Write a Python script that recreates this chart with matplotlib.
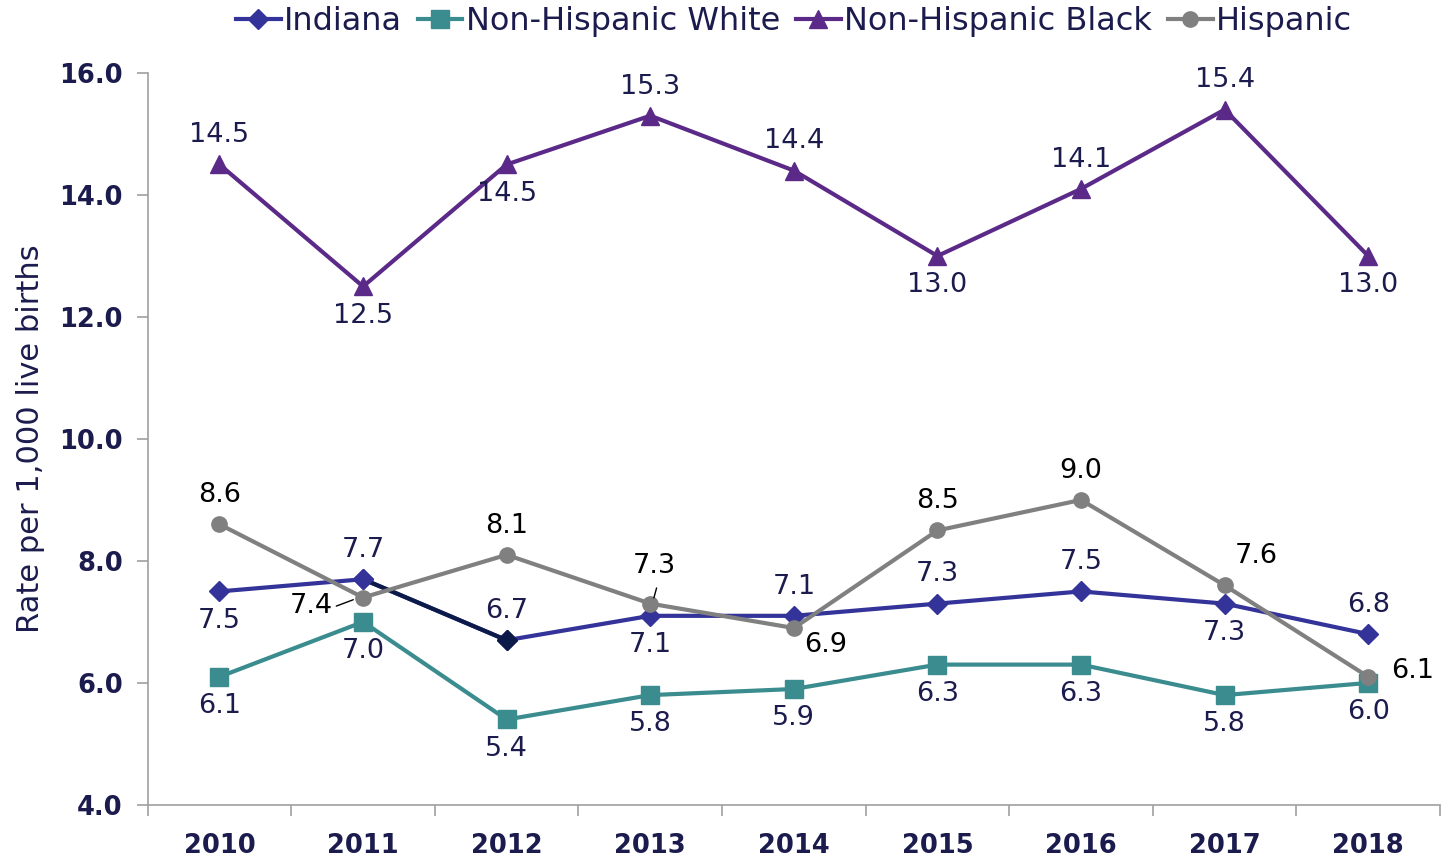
import numpy as np
import matplotlib.pyplot as plt
from matplotlib.ticker import MultipleLocator, FixedLocator

years = ["2010", "2011", "2012", "2013", "2014", "2015", "2016", "2017", "2018"]
indiana = [7.5, 7.7, 6.7, 7.1, 7.1, 7.3, 7.5, 7.3, 6.8]
nh_white = [6.1, 7.0, 5.4, 5.8, 5.9, 6.3, 6.3, 5.8, 6.0]
nh_black = [14.5, 12.5, 14.5, 15.3, 14.4, 13.0, 14.1, 15.4, 13.0]
hispanic = [8.6, 7.4, 8.1, 7.3, 6.9, 8.5, 9.0, 7.6, 6.1]

navy = "#1b1b4d"
c_ind = "#333399"
c_ind_dark = "#0b1a48"
c_wht = "#3a8c8f"
c_blk = "#5b2a88"
c_his = "#808080"

plt.rcParams['font.family'] = ['DejaVu Sans']

fig = plt.figure(figsize=(14.48, 8.59), dpi=100)
ax = fig.add_axes([0.102, 0.063, 0.8925, 0.852])
x = np.arange(len(years))

ax.plot(x, indiana, color=c_ind, lw=3, marker="D", ms=10, label="Indiana")
ax.plot(x[1:3], indiana[1:3], color=c_ind_dark, lw=3)
ax.plot(x[2], indiana[2], color=c_ind_dark, marker="D", ms=10)
ax.plot(x[1], indiana[1], color=c_ind, marker="D", ms=10)
ax.plot(x, nh_white, color=c_wht, lw=3, marker="s", ms=13, label="Non-Hispanic White")
ax.plot(x, nh_black, color=c_blk, lw=3, marker="^", ms=13, label="Non-Hispanic Black")
ax.plot(x, hispanic, color=c_his, lw=3, marker="o", ms=11, label="Hispanic")

fs = 19.5
def lab(xi, yv, dx, dy, color=navy):
    ax.annotate(f"{yv:.1f}", (xi, yv), xytext=(dx, dy), textcoords="offset points",
                ha="center", va="center", fontsize=fs, color=color)

up, dn = 21, -21
ind_off = [(0, dn), (0, up), (0, up), (0, dn), (0, up), (0, up), (0, up), (0, dn), (0, up)]
wht_off = [(0, dn)] * 9
blk_off = [(0, up), (0, dn), (0, dn), (0, up), (0, up), (0, dn), (0, up), (0, up), (0, dn)]
his_off = [(0, up), (-37, -6), (0, up), (3, 27), (23, -12), (0, up), (0, up), (23, 21), (32, 4)]
for i in range(len(years)):
    lab(x[i], indiana[i], *ind_off[i])
    lab(x[i], nh_white[i], *wht_off[i])
    lab(x[i], nh_black[i], *blk_off[i])
    lab(x[i], hispanic[i], *his_off[i], color="black")

# leader lines for crowded Hispanic labels
ax.annotate("", (x[1] - 0.05, hispanic[1] - 0.02), xytext=(-16, -6), textcoords="offset points",
            arrowprops=dict(arrowstyle="-", color="black", lw=1))
ax.annotate("", (x[3] + 0.02, hispanic[3] + 0.05), xytext=(3, 11), textcoords="offset points",
            arrowprops=dict(arrowstyle="-", color="black", lw=1))

ax.set_xlim(-0.5, len(years) - 0.5)
ax.set_ylim(4.0, 16.0)
ax.yaxis.set_major_locator(MultipleLocator(2.0))
ax.set_yticklabels([f"{v:.1f}" for v in ax.get_yticks()])
ax.set_xticks(x)
ax.set_xticklabels(years)
ax.xaxis.set_minor_locator(FixedLocator(np.arange(-0.5, len(years), 1.0)))
ax.tick_params(axis="x", which="major", length=0, pad=20, labelsize=18.5, labelcolor=navy)
ax.tick_params(axis="x", which="minor", length=8, color="#a0a0a0", width=1.2)
ax.tick_params(axis="y", length=8, color="#a0a0a0", width=1.2, pad=10, labelsize=18.5, labelcolor=navy)
for t in ax.get_xticklabels() + ax.get_yticklabels():
    t.set_fontweight("bold")

for s in ["top", "right"]:
    ax.spines[s].set_visible(False)
for s in ["left", "bottom"]:
    ax.spines[s].set_color("#a0a0a0")
    ax.spines[s].set_linewidth(1.2)

ax.set_ylabel("Rate per 1,000 live births", fontsize=22, color=navy, labelpad=10)

leg = ax.legend(loc="center", bbox_to_anchor=(0.5, 1.07), ncol=4, frameon=False,
                fontsize=23, handlelength=1.4, handletextpad=0.1, columnspacing=0.5)
for t in leg.get_texts():
    t.set_color(navy)

fig.savefig("out.png", dpi=100)
